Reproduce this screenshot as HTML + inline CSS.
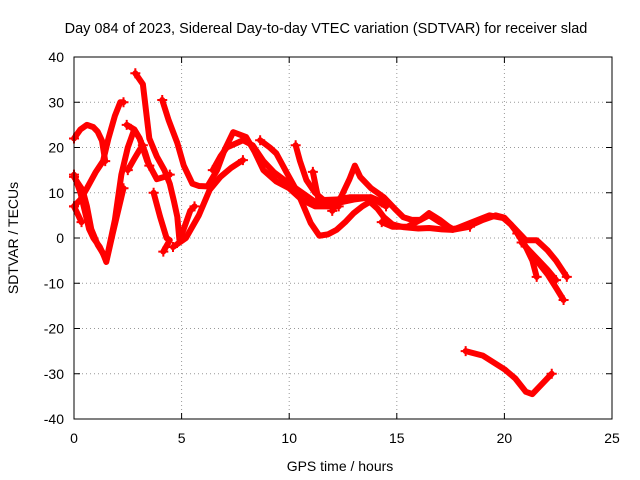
<!DOCTYPE html>
<html><head><meta charset="utf-8">
<style>
body{margin:0;background:#fff;}
svg{display:block;font-family:"Liberation Sans",sans-serif;}
</style></head>
<body>
<svg id="chart" width="640" height="480" viewBox="0 0 640 480">
<rect width="640" height="480" fill="#fff"/>
<text x="326" y="33" text-anchor="middle" font-size="14.5">Day 084 of 2023, Sidereal Day-to-day VTEC variation (SDTVAR) for receiver slad</text>
<g id="grid"></g>
<g id="ticks"></g>
<g id="series"></g>
<rect x="74" y="57" width="538" height="362" fill="none" stroke="#000" stroke-width="1"/>
<text x="340" y="471" text-anchor="middle" font-size="14">GPS time / hours</text>
<text transform="translate(18,238) rotate(-90)" text-anchor="middle" font-size="14">SDTVAR / TECUs</text>
</svg>
<script>
const xTicks=[0,5,10,15,20,25];
const yTicks=[-40,-30,-20,-10,0,10,20,30,40];
const tracks=[
 [[0,22],[0.3,24],[0.6,25],[0.9,24.5],[1.1,23.5],[1.3,21.5],[1.45,17]],
 [[0,7],[0.3,8.5],[0.6,11],[1,14.5],[1.35,17],[1.6,22],[1.9,27],[2.15,30],[2.3,30]],
 [[0,13.5],[0.2,12],[0.4,10.6],[0.6,7],[0.8,2],[1.1,-1.5],[1.35,-3.4],[1.5,-5.3],[1.8,1],[2.1,7],[2.3,11]],
 [[0,14],[0.3,10],[0.5,6],[0.7,2],[0.9,0],[1.2,-2],[1.5,-5],[1.9,4],[2.2,14],[2.5,20],[2.8,24],[3.05,22],[3.4,17],[3.85,13],[4.2,13.5],[4.45,14]],
 [[0,7],[0.2,5],[0.35,3.5]],
 [[2.45,25],[2.8,24],[3.05,22],[3.3,19],[3.5,16]],
 [[2.5,15],[2.8,17.5],[3.05,19.5],[3.2,20.5]],
 [[2.85,36.4],[3.2,34],[3.35,28],[3.5,22],[3.85,18],[4.2,15],[4.45,12],[4.65,8],[4.8,4.7],[4.9,-0.5],[5.1,2],[5.4,6],[5.6,7]],
 [[4.1,30.5],[4.4,26],[4.8,21],[5.1,16],[5.5,12],[5.8,11.5],[6.2,11.4],[6.65,15],[7,19.5],[7.4,23.4],[8.0,22.3],[8.4,19],[8.8,15],[9.4,12.5],[10,11],[10.6,8.4],[11.2,7],[12,7]],
 [[3.7,10],[4,4.7],[4.3,0],[4.45,-0.5],[4.15,-3]],
 [[4.6,-2],[5.2,0],[5.8,5],[6.3,10.6],[6.8,13.5],[7.3,15.5],[7.85,17.2]],
 [[6.45,15],[6.8,18],[7.1,20],[7.85,21.6],[8.3,20.5],[8.8,17],[9.3,14.5],[10,12],[10.6,10],[11.2,8],[12,7.5],[13,8.5],[13.8,9],[14.5,7]],
 [[8.65,21.6],[9.1,20],[9.4,18.7],[9.9,14.3],[10.4,10],[11,3.3],[11.4,0.5],[11.8,0.8],[12.2,1.8],[12.6,3.5],[13,5.5],[13.4,7],[13.75,8],[14.1,6.5],[14.4,4.6],[14.8,3],[15.3,2.4],[16,2.1],[16.5,2.2],[17.1,1.9],[17.6,1.8],[18.4,2.5]],
 [[10.3,20.5],[10.5,17],[10.8,12.8],[11.2,10],[11.6,8.4],[12.2,8.5],[12.8,9],[13.8,9],[14.3,8]],
 [[11.1,14.6],[11.25,11],[11.4,7.7],[11.8,7.2],[12.3,7]],
 [[12,6],[12.4,9],[12.8,13],[13.05,16],[13.3,13.5],[13.8,11],[14.4,9],[14.9,6.5],[15.3,4.6],[15.7,4],[16.1,4],[16.5,5.5],[17,4],[17.6,1.8],[18.4,3.3],[19.3,5],[19.95,4.4],[20.3,3],[20.6,1.1],[21,-2],[21.3,-5],[21.5,-8.6]],
 [[14.3,3.5],[14.8,2.5],[15.5,2.5],[16.1,4],[16.5,5],[17,3.5],[17.6,2],[18.3,2.5],[19,4],[19.6,5],[20,4.5],[20.5,2],[21,-0.5],[21.5,-0.5],[22,-2.7],[22.4,-5],[22.9,-8.6]],
 [[20.8,-1],[21.2,-3],[21.6,-5],[22,-7],[22.4,-9.3]],
 [[20.6,1],[21,-2],[21.5,-5],[22,-8],[22.4,-11],[22.75,-13.7]],
 [[18.2,-25],[19,-26],[20,-29],[20.5,-31],[21,-34],[21.3,-34.5],[21.6,-33],[22.2,-30]]
];
const X0=74,X1=612,Y0=419,Y1=57;
const xs=v=>X0+(v-0)/25*(X1-X0);
const ys=v=>Y0-(v+40)/80*(Y0-Y1);
const NS="http://www.w3.org/2000/svg";
const grid=document.getElementById('grid'),ticks=document.getElementById('ticks'),series=document.getElementById('series');
function mk(t,a,p){const e=document.createElementNS(NS,t);for(const k in a)e.setAttribute(k,a[k]);p.appendChild(e);return e;}
xTicks.forEach(v=>{
 const x=xs(v);
 if(v>0&&v<25){const g=mk('line',{x1:x,x2:x,y1:Y1,y2:Y0,stroke:'#999','stroke-dasharray':'1,3'},grid);
 
 }
 mk('line',{x1:x,x2:x,y1:Y0,y2:Y0-6,stroke:'#000'},ticks);
 mk('line',{x1:x,x2:x,y1:Y1,y2:Y1+6,stroke:'#000'},ticks);
 const t=mk('text',{x:x,y:Y0+24,'text-anchor':'middle','font-size':'14'},ticks);
 
 
 t.textContent=v;
});
yTicks.forEach(v=>{
 const y=ys(v);
 if(v>-40&&v<40){const g=mk('line',{x1:X0,x2:X1,y1:y,y2:y,stroke:'#999','stroke-dasharray':'1,3'},grid);
 
 }
 mk('line',{x1:X0,x2:X0+6,y1:y,y2:y,stroke:'#000'},ticks);
 mk('line',{x1:X1,x2:X1-6,y1:y,y2:y,stroke:'#000'},ticks);
 const t=mk('text',{x:X0-10,y:y+5,'text-anchor':'end','font-size':'14'},ticks);
 
 
 t.textContent=v;
});
tracks.forEach((tr,i)=>{
 const pts=tr.map(p=>xs(p[0])+','+ys(p[1])).join(' ');
 const pl=mk('polyline',{points:pts,fill:'none',stroke:'#f00','stroke-width':'6','stroke-linejoin':'round','stroke-linecap':'round'},series);
 
 
 [tr[0],tr[tr.length-1]].forEach(p=>{
  const x=xs(p[0]),y=ys(p[1]);
  const m=mk('path',{d:`M${x-5},${y}H${x+5}M${x},${y-5}V${y+5}`,stroke:'#f00','stroke-width':'2'},series);
  
  
 });
});
</script>
</body></html>
